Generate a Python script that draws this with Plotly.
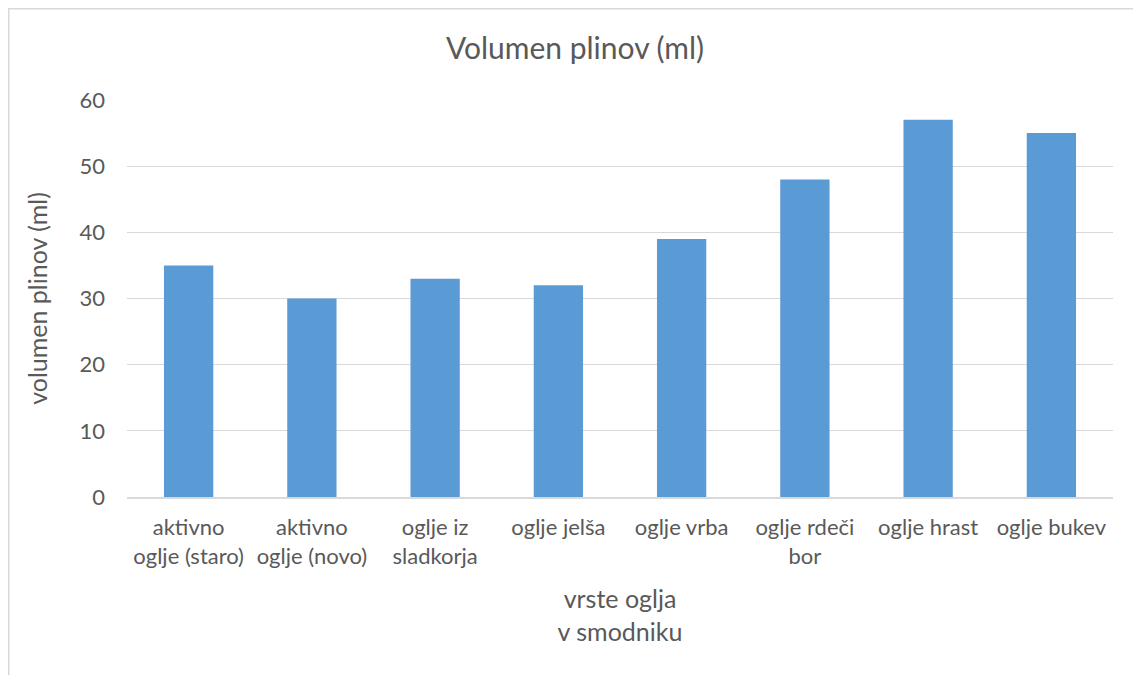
import plotly.graph_objects as go

categories = ["aktivno<br>oglje (staro)", "aktivno<br>oglje (novo)", "oglje iz<br>sladkorja",
              "oglje jelša", "oglje vrba", "oglje rdeči<br>bor", "oglje hrast", "oglje bukev"]
values = [35, 30, 33, 32, 39, 48, 57, 55]
y_ticks = [0, 10, 20, 30, 40, 50, 60]

FONT = "Lato, Calibri, Carlito, sans-serif"
GREY = "#595959"

# page has an 8px body margin; layout numbers are figure coordinates
W, H = 1141, 675
L, R, T, B = 119, 36, 92, 186
pw, ph = W - L - R, H - T - B

fig = go.Figure(go.Bar(x=categories, y=values, marker=dict(color="#5B9BD5", line=dict(width=0)),
                       hoverinfo="x+y"))

fig.update_layout(
    width=W, height=H,
    margin=dict(l=L, r=R, t=T, b=B),
    paper_bgcolor="white", plot_bgcolor="white",
    bargap=0.6,
    font=dict(family=FONT, color=GREY, size=22),
    title=dict(text="Volumen plinov (ml)", x=567 / W, xanchor="center", xref="container",
               y=1 - 40 / H, yanchor="middle", font=dict(size=30, color=GREY, family=FONT)),
    showlegend=False,
    xaxis=dict(showgrid=False, showline=True, linecolor="#D9D9D9", linewidth=1.5,
               tickfont=dict(size=22, color=GREY), ticks="", ticklabelstandoff=10,
               title=dict(text="vrste oglja<br>v smodniku", font=dict(size=25, color=GREY), standoff=23)),
    yaxis=dict(range=[0, 60], tickvals=y_ticks, showgrid=True, gridcolor="#D9D9D9", gridwidth=1.2,
               zeroline=False, showline=False, ticks="", ticklabelstandoff=21,
               tickfont=dict(size=22, color=GREY),
               title=dict(text="volumen plinov (ml)", font=dict(size=25, color=GREY), standoff=24)),
)

# chart border (cropped at right and bottom like the reference)
fig.add_shape(type="rect", xref="paper", yref="paper",
              x0=(0.75 - L) / pw, x1=(W + 10 - L) / pw,
              y0=(H - B - (H + 10)) / ph, y1=(H - B - 0.75) / ph,
              line=dict(color="#D9D9D9", width=1.5), fillcolor="rgba(0,0,0,0)", layer="below")

fig.write_html("out.html")
